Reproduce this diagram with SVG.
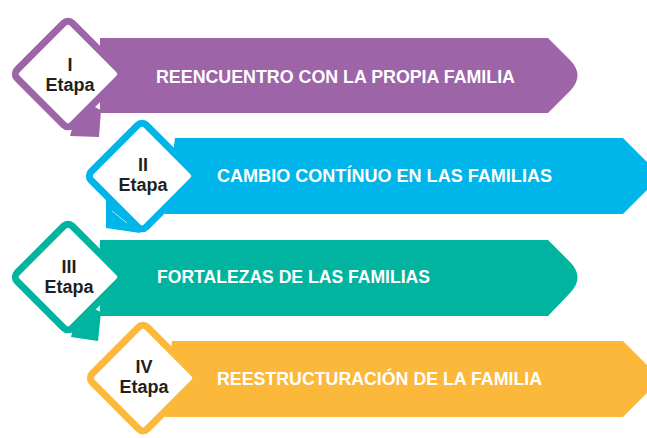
<svg xmlns="http://www.w3.org/2000/svg" width="647" height="438" viewBox="0 0 647 438">
<style>
.lbl{font-family:"Liberation Sans",Arial,sans-serif;font-weight:bold;font-size:17.5px;fill:#ffffff}
.dt{font-family:"Liberation Sans",Arial,sans-serif;font-weight:bold;font-size:18px;fill:#231f20;text-anchor:middle}
.dia{fill:#ffffff;stroke-width:7}
.p{fill:#9d64a8}.b{fill:#00b5e9}.t{fill:#00b4a0}.y{fill:#fcb83a}
.ps{stroke:#9d64a8}.bs{stroke:#00b5e9}.ts{stroke:#00b4a0}.ys{stroke:#fcb83a}
</style>
<rect width="647" height="438" fill="#ffffff"/>
<g id="stage1">
<path class="p" d="M100 38 H548 L570 60 Q585 75.5 570 91 L548 113 H100 Z"/>
<path class="p" d="M80 100 L101 110 L99 137 L70 136 Z"/>
<rect class="dia ps" x="-39" y="-39" width="78" height="78" rx="6" transform="translate(68 74) rotate(45)"/>
<text class="dt" x="70" y="71">I</text>
<text class="dt" x="70" y="91">Etapa</text>
<text class="lbl" x="156" y="83" textLength="359" lengthAdjust="spacingAndGlyphs">REENCUENTRO CON LA PROPIA FAMILIA</text>
</g>
<g id="stage2">
<path class="b" d="M175 138 H623 L661 176 L623 214 H165 Z"/>
<path class="b" d="M106 188 L150 200 L140 233 L106 228 Z"/>
<line x1="112" y1="211" x2="127" y2="223" stroke="#ffffff" stroke-width="0.8" stroke-opacity="0.8"/>
<rect class="dia bs" x="-39" y="-39" width="78" height="78" rx="6" transform="translate(142 176) rotate(45)"/>
<text class="dt" x="143" y="171">II</text>
<text class="dt" x="143" y="191">Etapa</text>
<text class="lbl" x="217" y="182" textLength="335" lengthAdjust="spacingAndGlyphs">CAMBIO CONTÍNUO EN LAS FAMILIAS</text>
</g>
<g id="stage3">
<path class="t" d="M100 240 H548 L570 262 Q585 277.5 570 293 L548 316 H100 Z"/>
<path class="t" d="M80 302 L101 312 L98 341 L71 337 Z"/>
<rect class="dia ts" x="-39" y="-39" width="78" height="78" rx="6" transform="translate(68 277) rotate(45)"/>
<text class="dt" x="69" y="273">III</text>
<text class="dt" x="69" y="293">Etapa</text>
<text class="lbl" x="157" y="283" textLength="273" lengthAdjust="spacingAndGlyphs">FORTALEZAS DE LAS FAMILIAS</text>
</g>
<g id="stage4">
<path class="y" d="M172 341 H623 L661 379 L623 417 H165 Z"/>
<rect class="dia ys" x="-39" y="-39" width="78" height="78" rx="6" transform="translate(143 378) rotate(45)"/>
<text class="dt" x="144" y="373">IV</text>
<text class="dt" x="144" y="393">Etapa</text>
<text class="lbl" x="217" y="385" textLength="325" lengthAdjust="spacingAndGlyphs">REESTRUCTURACIÓN DE LA FAMILIA</text>
</g>
<g id="connectors"></g>
</svg>
